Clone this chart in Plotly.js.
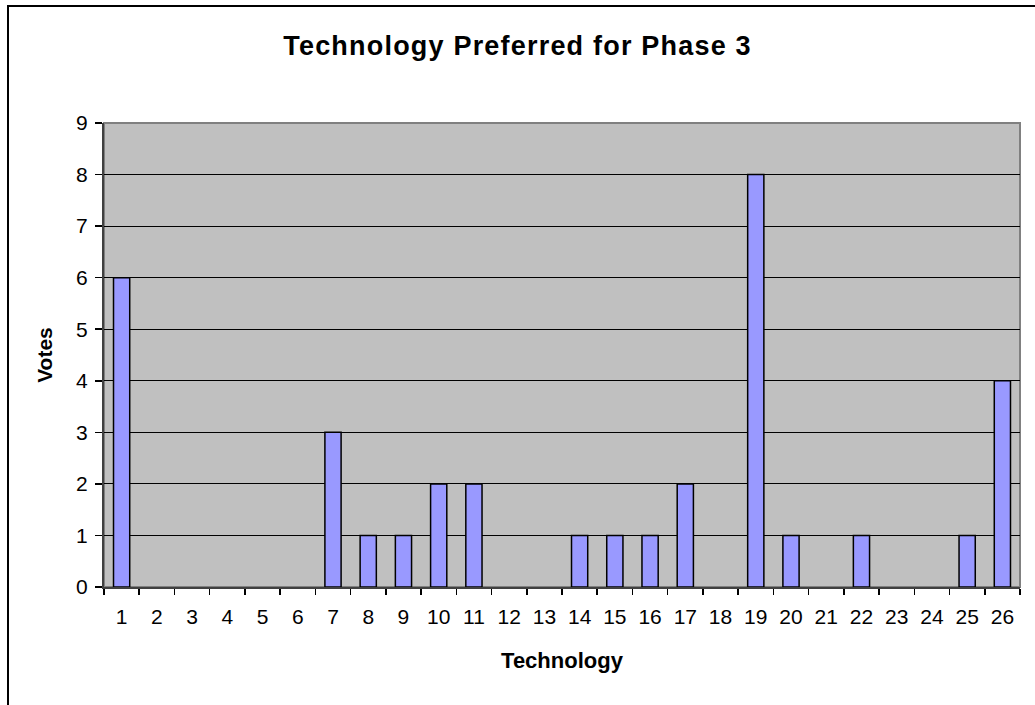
<!DOCTYPE html>
<html><head><meta charset="utf-8">
<script src="https://cdn.plot.ly/plotly-3.0.1.min.js"></script>
<style>html,body{margin:0;padding:0;background:#fff;}#chart{width:1035px;height:705px;}
.gtitle{letter-spacing:1.2px;}</style>
</head><body><div id="chart"></div>
<script>
const categories = ['1','2','3','4','5','6','7','8','9','10','11','12','13','14','15','16','17','18','19','20','21','22','23','24','25','26'];
const votes = [6,0,0,0,0,0,3,1,1,2,2,0,0,1,1,1,2,0,8,1,0,1,0,0,1,4];
const yTicks = [0,1,2,3,4,5,6,7,8,9];

const font = 'Liberation Sans, Arial, sans-serif';
const trace = {
  type: 'bar', x: categories, y: votes,
  marker: {color: '#9999FF', line: {color: '#000000', width: votes.map(v => v > 0 ? 1.5 : 0)}},
  hoverinfo: 'x+y'
};
const layout = {
  width: 1035, height: 705,
  margin: {l: 104, r: 15, t: 123, b: 118},
  paper_bgcolor: '#ffffff', plot_bgcolor: '#C0C0C0',
  bargap: 0.54,
  showlegend: false,
  font: {family: font, color: '#000', size: 21},
  title: {text: '<b>Technology Preferred for Phase 3</b>', font: {family: font, size: 27, color: '#000'}, x: 0.5, xanchor: 'center', y: 0.936, yanchor: 'middle'},
  xaxis: {
    type: 'category', tickson: 'boundaries', ticks: 'outside', ticklen: 6, tickwidth: 1.5, tickcolor: '#000',
    ticklabelstandoff: 10,
    showline: true, linecolor: '#404040', linewidth: 2, showgrid: false, zeroline: false,
    tickfont: {family: font, size: 21},
    title: {text: '<b>Technology</b>', font: {family: font, size: 22}, standoff: 25}
  },
  yaxis: {
    range: [0, 9], tickvals: yTicks, ticks: 'outside', ticklen: 7, tickwidth: 1.5, tickcolor: '#000',
    ticklabelstandoff: 3,
    showline: true, linecolor: '#404040', linewidth: 2, showgrid: true, gridcolor: '#000', gridwidth: 1, zeroline: false,
    tickfont: {family: font, size: 21},
    title: {text: '<b>Votes</b>', font: {family: font, size: 21}, standoff: 18}
  },
  shapes: [
    {type: 'rect', xref: 'paper', yref: 'paper', x0: 0, x1: 1, y0: 0, y1: 1, line: {color: '#808080', width: 2}, layer: 'below'},
    {type: 'rect', xref: 'paper', yref: 'paper', x0: -0.1048, x1: 1.03, y0: -0.27, y1: 1.2522, line: {color: '#000', width: 2}}
  ]
};
Plotly.newPlot('chart', [trace], layout, {displayModeBar: false, staticPlot: true});
</script></body></html>
